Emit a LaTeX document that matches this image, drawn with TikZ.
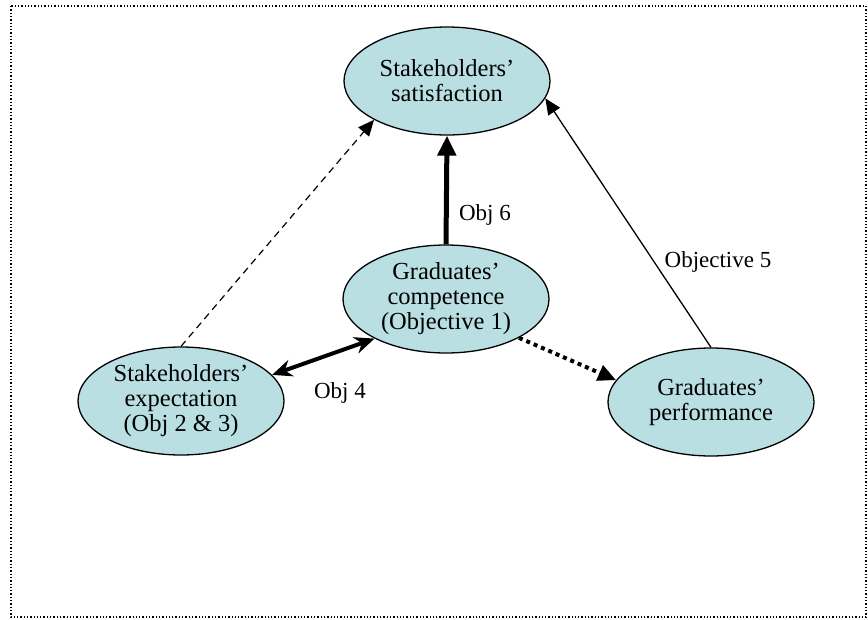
\documentclass[tikz,border=0pt]{standalone}
\usepackage{fontspec}
\setmainfont{Liberation Serif}
\usetikzlibrary{arrows.meta,shapes.geometric}
\definecolor{bubble}{RGB}{185,223,227}
\begin{document}
\begin{tikzpicture}[x=1pt,y=-1pt,
  bubble/.style={ellipse,draw=black,line width=1.3pt,fill=bubble,
    minimum width=206pt,minimum height=108pt,inner sep=0pt,align=center,
    font=\fontsize{24.5}{25}\selectfont},
  lbl/.style={font=\fontsize{23}{25}\selectfont,inner sep=0pt},
  tri/.style={-{Triangle[length=16pt,width=14pt]}}]
\useasboundingbox (0,0) rectangle (868,619);
\draw[line width=1.3pt,dotted] (11,6) rectangle (866,617);

\node[bubble] (sat)  at (447,81)  {Stakeholders'\\satisfaction};
\node[bubble] (comp) at (446,299) {Graduates'\\competence\\(Objective 1)};
\node[bubble] (exp)  at (181,401) {Stakeholders'\\expectation\\(Obj 2 \& 3)};
\node[bubble] (perf) at (711,402) {Graduates'\\performance};

% links between the four bubbles
\draw[tri,line width=1.2pt,dash pattern=on 7pt off 5pt] (exp.north) -- (sat.208);
\draw[-{Triangle[length=20pt,width=18pt]},line width=5pt] (comp.north) -- (sat.south);
\draw[tri,line width=1.3pt] (perf.north) -- (sat.350);
\draw[{Stealth[length=20pt,width=17pt]}-{Stealth[length=20pt,width=17pt]},line width=4pt] (exp.16) -- (comp.209);
\draw[-{Triangle[length=18pt,width=16pt]},line width=4pt,dash pattern=on 4pt off 4pt] (comp.332) -- (perf.167);

\node[lbl] (l6) at (485,215) {Obj 6};
\node[lbl] (l5) at (718,262) {Objective 5};
\node[lbl] (l4) at (340,393) {Obj 4};
\end{tikzpicture}
\end{document}
